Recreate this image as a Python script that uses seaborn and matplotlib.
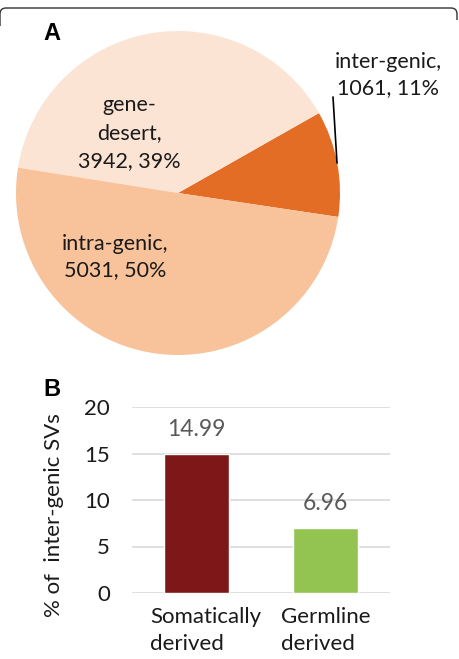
import matplotlib
matplotlib.use("Agg")
import matplotlib.pyplot as plt
import matplotlib.transforms as mtransforms
import seaborn as sns
import pandas as pd
from matplotlib.lines import Line2D
from matplotlib.patches import PathPatch
from matplotlib.path import Path

# ---- data ----
pie_labels = ["inter-genic", "gene-\ndesert", "intra-genic"]
pie_counts = [1061, 3942, 5031]
pie_pcts = [11, 39, 50]
pie_colors = ["#E36D25", "#FCE4D5", "#F8C29A"]

bar_categories = ["Somatically\nderived", "Germline\nderived"]
bar_values = [14.99, 6.96]
bar_colors = ["#7E1818", "#93C452"]
y_ticks = [0, 5, 10, 15, 20]

W, H = 459, 659
sns.set_theme(style="white")
plt.rcParams['font.family'] = ['Lato', 'DejaVu Sans']

fig = plt.figure(figsize=(W / 100, H / 100), dpi=100)
fig.patch.set_facecolor("white")

def fx(px):
    return px / W

def fy(py):
    return 1 - py / H

# ---- panel A: pie ----
cx, cy, r = 178, 193, 162
axA = fig.add_axes([fx(cx - r), fy(cy + r), 2 * r / W, 2 * r / H])
axA.pie(pie_counts, colors=pie_colors, startangle=-8.5, counterclock=True,
        wedgeprops=dict(linewidth=0))
axA.set_xlim(-1, 1)
axA.set_ylim(-1, 1)
axA.set_axis_off()

fs_pie = 15.5
txtc = "#1a1a1a"
fig.text(fx(129), fy(133), f"{pie_labels[1]},\n{pie_counts[1]}, {pie_pcts[1]}%",
         ha="center", va="center", fontsize=fs_pie, color=txtc,
         linespacing=1.5)
fig.text(fx(115), fy(257), f"{pie_labels[2]},\n{pie_counts[2]}, {pie_pcts[2]}%",
         ha="center", va="center", fontsize=fs_pie, color=txtc,
         linespacing=1.4)
fig.text(fx(388), fy(75), f"{pie_labels[0]},\n{pie_counts[0]}, {pie_pcts[0]}%",
         ha="center", va="center", fontsize=fs_pie, color=txtc,
         linespacing=1.4)
fig.add_artist(Line2D([fx(333), fx(337)], [fy(97), fy(163)],
                      color="black", linewidth=1.2))

fig.text(fx(52), fy(33), "A", ha="center", va="center", fontsize=17,
         fontweight="bold", family="Liberation Sans", color="black")
fig.text(fx(52), fy(390), "B", ha="center", va="center", fontsize=17,
         fontweight="bold", family="Liberation Sans", color="black")

# ---- panel B: bars ----
axB = fig.add_axes([fx(132), fy(593), (390 - 132) / W, (593 - 407) / H])
df = pd.DataFrame({"cat": bar_categories, "val": bar_values})
sns.barplot(data=df, x="cat", y="val", hue="cat", palette=bar_colors,
            width=0.5, ax=axB, legend=False, saturation=1)
axB.set_ylim(0, 20)
axB.set_xlim(-0.5, 1.5)
axB.set_yticks(y_ticks)
axB.yaxis.grid(True, color="#D9D9D9", linewidth=1.2)
axB.set_axisbelow(True)
for s in axB.spines.values():
    s.set_visible(False)
axB.tick_params(axis="both", length=0, labelsize=16, colors=txtc)
axB.tick_params(axis="y", pad=16)
axB.tick_params(axis="x", pad=10)
axB.set_yticklabels([str(t) for t in y_ticks])
axB.set_xticks(range(len(bar_categories)))
axB.set_xticklabels(bar_categories, multialignment="left", linespacing=1.45)
xt = axB.get_xticklabels()
xt[0].set_transform(xt[0].get_transform() +
                    mtransforms.ScaledTranslation(9 / 100, 0, fig.dpi_scale_trans))
axB.set_xlabel("")
axB.set_ylabel("% of  inter-genic SVs", fontsize=16, color=txtc)
axB.yaxis.set_label_coords(-0.265, 0.42)
for c in axB.containers:
    axB.bar_label(c, fmt="%.2f", padding=10, fontsize=16.5, color="#595959")

# ---- frame at top (rounded top edge only) ----
rc = 6
verts = [(fx(0), fy(8 + 3 * rc)), (fx(0), fy(8 + rc)),
         (fx(0), fy(8)), (fx(rc), fy(8)),
         (fx(457 - rc), fy(8)),
         (fx(457), fy(8)), (fx(457), fy(8 + rc)),
         (fx(457), fy(8 + 2 * rc))]
codes = [Path.MOVETO, Path.LINETO, Path.CURVE3, Path.CURVE3, Path.LINETO,
         Path.CURVE3, Path.CURVE3, Path.LINETO]
fig.add_artist(PathPatch(Path(verts, codes), transform=fig.transFigure,
                         fill=False, edgecolor="#333333", linewidth=1.0))

fig.savefig("out.png", dpi=100, facecolor="white")
